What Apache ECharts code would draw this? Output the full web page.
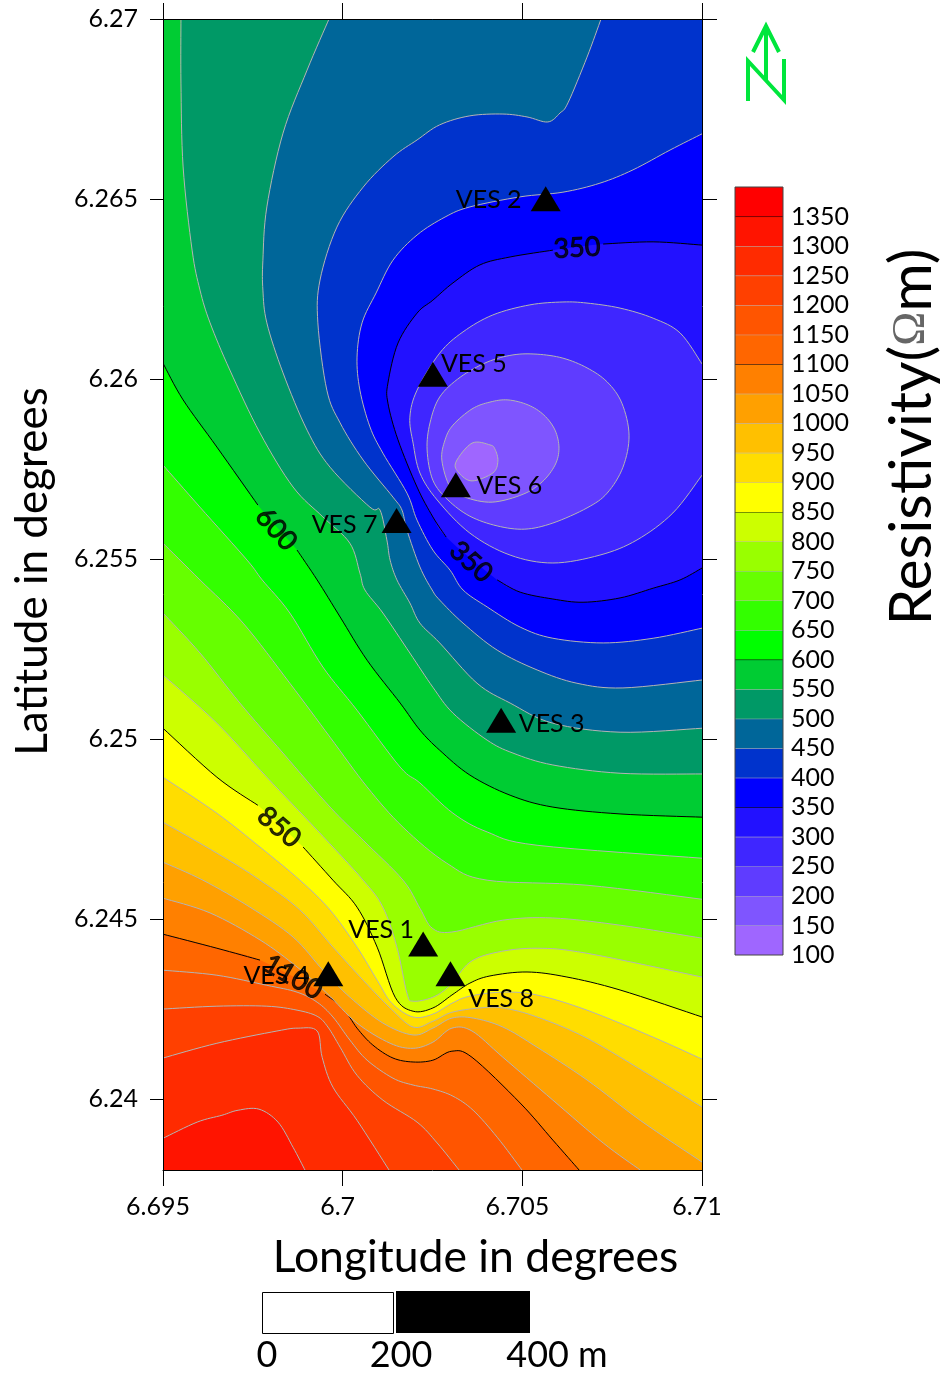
<!DOCTYPE html>
<html>
<head>
<meta charset="utf-8">
<style>html,body{margin:0;padding:0;background:#fff}#c{width:940px;height:1373px}</style>
<script src="https://cdn.jsdelivr.net/npm/echarts@6/dist/echarts.min.js"></script>
</head>
<body>
<div id="c"></div>
<script>
const lonMin = 6.695, lonMax = 6.71, latMin = 6.23803, latMax = 6.27;
const lonTicks = [6.695, 6.7, 6.705, 6.71];
const latTicks = [6.24, 6.245, 6.25, 6.255, 6.26, 6.265, 6.27];

const bandLows = [100,150,200,250,300,350,400,450,500,550,600,650,700,750,800,850,900,950,1000,1050,1100,1150,1200,1250,1300,1350];
const bandColors = ['#9f66ff','#7f55ff','#5f3cff','#3f26ff','#2211ff','#0000ff','#0033cc','#006699','#009966','#00cc33','#00ff00','#33ff00','#66ff00','#99ff00','#ccff00','#ffff00','#ffdd00','#ffc000','#ffa000','#ff8000','#ff6600','#ff5500','#ff4000','#ff2b00','#ff1400','#ff0000'];
const blackLevels = [350,600,850,1100,1350];

// Contours as [longitude, latitude] in degrees; null marks a break for a contour label
const c150 = [[6.7036,6.25822],[6.7041,6.25817],[6.70424,6.25805],[6.70432,6.25772],[6.70418,6.25739],[6.7036,6.25717],[6.70324,6.25739],[6.70315,6.25769]];
const c200 = [[6.7046,6.25942],[6.70516,6.25928],[6.7056,6.259],[6.70591,6.25858],[6.70602,6.25808],[6.70591,6.25761],[6.70555,6.25714],[6.70502,6.2568],[6.70416,6.25658],[6.7034,6.25672],[6.70299,6.257],[6.70276,6.25775],[6.70285,6.25831],[6.70307,6.25872],[6.7036,6.25917],[6.7041,6.25936]];
const c250 = [[6.70541,6.26069],[6.70613,6.26058],[6.7068,6.26031],[6.70736,6.25992],[6.70777,6.25933],[6.70797,6.25844],[6.7078,6.25755],[6.70736,6.25683],[6.7068,6.25642],[6.70585,6.256],[6.70507,6.25583],[6.7043,6.25592],[6.70354,6.25619],[6.70293,6.25664],[6.70251,6.25719],[6.70235,6.25803],[6.70243,6.25878],[6.7027,6.2595],[6.70327,6.26005],[6.70402,6.26047],[6.70474,6.26067]];
const c300 = [[6.71,6.26042],[6.70939,6.26128],[6.70864,6.26169],[6.70772,6.26197],[6.7068,6.26211],[6.70613,6.26214],[6.70521,6.26206],[6.70418,6.26178],[6.70335,6.26131],[6.7027,6.26072],[6.70207,6.25969],[6.70187,6.25894],[6.70196,6.25822],[6.70215,6.25739],[6.70263,6.25664],[6.70354,6.25572],[6.70466,6.25511],[6.70585,6.25489],[6.70716,6.25511],[6.70819,6.25553],[6.70919,6.25628],[6.71,6.25733]];
const c350 = [[6.71,6.26372],[6.70864,6.26381],[6.70725,6.26375],null,[6.70585,6.26358],[6.70466,6.26339],[6.70382,6.26317],[6.70307,6.26267],[6.70251,6.26219],[6.70207,6.26183],[6.70154,6.261],[6.70126,6.25989],[6.70126,6.25933],[6.70154,6.25831],[6.70207,6.257],[6.70251,6.25617],[6.70288,6.25561],null,[6.7043,6.25442],[6.70494,6.25408],[6.70585,6.25389],[6.70669,6.2538],[6.70772,6.25392],[6.70864,6.25419],[6.70939,6.25442],[6.71,6.25475]];
const c400 = [[6.71,6.26681],[6.70911,6.26636],[6.70808,6.26581],[6.70716,6.26544],[6.70613,6.26519],[6.70494,6.26506],[6.70354,6.26478],[6.70285,6.2645],[6.70207,6.264],[6.7014,6.2633],[6.70093,6.26239],[6.70054,6.26156],[6.7004,6.26061],[6.70048,6.25969],[6.70076,6.25867],[6.70112,6.25794],[6.70179,6.25683],[6.70207,6.25608],[6.70251,6.25525],[6.70299,6.25469],[6.70335,6.25414],[6.70402,6.25367],[6.70494,6.25311],[6.70585,6.2528],[6.70725,6.25267],[6.70864,6.2528],[6.71,6.25308]];
const c450 = [[6.70719,6.27],[6.7068,6.26894],[6.70627,6.26767],[6.70605,6.26739],[6.70571,6.26714],[6.70513,6.26728],[6.70446,6.26736],[6.70354,6.26731],[6.7027,6.26706],[6.70207,6.26664],[6.7014,6.26617],[6.70057,6.26533],[6.69984,6.26422],[6.69937,6.26275],[6.69931,6.26156],[6.69956,6.25969],[6.69993,6.25878],[6.70057,6.25775],[6.7014,6.25672],[6.70165,6.25636],[6.70179,6.2558],[6.70215,6.25478],[6.70249,6.25414],[6.7027,6.25386],[6.70335,6.25322],[6.7043,6.25247],[6.70541,6.25192],[6.70652,6.25155],[6.7078,6.25142],[6.71,6.25164]];
const c500 = [[6.69962,6.27],[6.69901,6.26858],[6.69834,6.26683],[6.69789,6.26478],[6.69778,6.2633],[6.69778,6.26247],[6.69789,6.26156],[6.69834,6.26017],[6.69901,6.25858],[6.69965,6.25755],[6.70076,6.25644],[6.70104,6.25636],[6.70123,6.25553],[6.70132,6.25497],[6.70151,6.25442],[6.70187,6.25378],[6.70215,6.25322],[6.7027,6.25267],[6.70374,6.25155],[6.70466,6.251],[6.70585,6.25044],[6.70772,6.25019],[6.71,6.2503]];
const c550 = [[6.6955,6.27],[6.6955,6.26822],[6.69556,6.26589],[6.69581,6.26358],[6.69603,6.26247],[6.69631,6.26156],[6.69686,6.26025],[6.6977,6.2585],[6.69862,6.257],[6.69945,6.25617],[6.7002,6.25544],[6.70048,6.25461],[6.70062,6.25414],[6.70112,6.2535],[6.70187,6.25239],[6.70251,6.25144],[6.70307,6.25072],[6.70402,6.24997],[6.70474,6.24961],[6.70585,6.24928],[6.70772,6.24905],[6.71,6.24903]];
const c600 = [[6.695,6.26044],[6.69556,6.25942],[6.6965,6.25811],[6.69764,6.2565],null,[6.69873,6.25525],[6.69929,6.25442],[6.69993,6.25339],[6.70068,6.25219],[6.7016,6.251],[6.70215,6.25025],[6.7027,6.24969],[6.70354,6.249],[6.70466,6.24844],[6.70585,6.24811],[6.70772,6.24792],[6.71,6.24783]];
const c650 = [[6.695,6.25761],[6.69603,6.25644],[6.69734,6.25497],[6.69776,6.25442],[6.69853,6.2535],[6.69945,6.252],[6.7004,6.2508],[6.7016,6.24922],[6.70215,6.24878],[6.70307,6.24794],[6.70402,6.24742],[6.70541,6.24705],[6.71,6.24669]];
const c700 = [[6.695,6.25544],[6.69603,6.25442],[6.69723,6.25322],[6.69853,6.25155],[6.69965,6.25005],[6.70068,6.24867],[6.70168,6.24755],[6.7029,6.24655],[6.70402,6.24608],[6.7068,6.24594],[6.71,6.24555]];
const c750 = [[6.695,6.2535],[6.69603,6.25239],[6.69714,6.251],[6.69834,6.24961],[6.69965,6.24811],[6.70057,6.24719],[6.70168,6.24608],[6.70215,6.2453],[6.70249,6.24475],[6.70304,6.24464],[6.70446,6.24497],[6.70585,6.24503],[6.70772,6.24483],[6.71,6.24447]];
const c800 = [[6.695,6.25178],[6.6965,6.25044],[6.69789,6.24894],[6.69929,6.24747],[6.70057,6.24608],[6.70112,6.24533],[6.70151,6.24422],[6.70179,6.24294],[6.70196,6.24272],[6.70251,6.24283],[6.70299,6.24316],[6.70354,6.2438],[6.7043,6.24408],[6.70541,6.24419],[6.7068,6.24405],[6.71,6.24339]];
const c850 = [[6.695,6.2503],[6.6965,6.24894],[6.69764,6.24816],null,[6.6989,6.247],[6.69973,6.24608],[6.7004,6.24533],[6.70096,6.24422],[6.70146,6.24283],[6.70196,6.24244],[6.70251,6.24253],[6.70304,6.24289],[6.70354,6.24322],[6.7041,6.24342],[6.70513,6.24353],[6.70624,6.24339],[6.70772,6.24303],[6.71,6.24228]];
const c900 = [[6.695,6.24894],[6.6965,6.24794],[6.6977,6.247],[6.69881,6.24608],[6.69965,6.24525],[6.7004,6.24422],[6.70096,6.2433],[6.70137,6.24266],[6.70196,6.24228],[6.70251,6.24236],[6.70304,6.24266],[6.70354,6.24286],[6.70446,6.24297],[6.70541,6.24289],[6.7068,6.24247],[6.70864,6.24172],[6.71,6.24111]];
const c950 = [[6.695,6.24769],[6.6965,6.24683],[6.6977,6.24608],[6.69881,6.24525],[6.69973,6.24422],[6.70057,6.2433],[6.70132,6.24253],[6.70196,6.242],[6.70251,6.24216],[6.70304,6.24241],[6.70382,6.24253],[6.70446,6.24253],[6.70541,6.24228],[6.7068,6.24169],[6.70864,6.24061],[6.71,6.23978]];
const c1000 = [[6.695,6.24658],[6.69611,6.24608],[6.69742,6.24533],[6.69862,6.2445],[6.69945,6.24358],[6.7002,6.24283],[6.70112,6.24211],[6.70196,6.24178],[6.70251,6.24197],[6.70304,6.24225],[6.70363,6.24225],[6.70446,6.242],[6.70541,6.24144],[6.7068,6.24053],[6.70828,6.23941],[6.71,6.23825]];
const c1050 = [[6.695,6.24558],[6.69631,6.24517],[6.6977,6.24442],[6.69873,6.24367],[6.69956,6.24294],[6.7004,6.24211],[6.70132,6.24155],[6.70196,6.24141],[6.70251,6.24158],[6.70304,6.24197],[6.7036,6.24189],[6.70446,6.24116],[6.70585,6.23997],[6.70725,6.23878],[6.70828,6.23803]];
const c1100 = [[6.695,6.24458],[6.6965,6.24419],[6.6977,6.24386],null,[6.69951,6.24291],[6.70001,6.24253],[6.7004,6.24197],[6.70084,6.2415],[6.7014,6.24114],[6.70196,6.24103],[6.70251,6.24108],[6.70304,6.24133],[6.7036,6.24116],[6.70494,6.23989],[6.70585,6.23886],[6.70658,6.23803]];
const c1150 = [[6.695,6.24358],[6.6965,6.24344],[6.69789,6.24316],[6.69873,6.24297],[6.69929,6.24269],[6.69973,6.24228],[6.7002,6.24164],[6.70068,6.24108],[6.7014,6.24058],[6.70196,6.24039],[6.70251,6.24028],[6.70307,6.24008],[6.70363,6.23969],[6.7043,6.23894],[6.70499,6.23803]];
const c1200 = [[6.695,6.2425],[6.6965,6.24258],[6.69789,6.24258],[6.69873,6.24247],[6.69929,6.2423],[6.69959,6.242],[6.69993,6.24144],[6.7004,6.24066],[6.70112,6.23997],[6.70207,6.23936],[6.70263,6.23878],[6.70324,6.23803]];
const c1250 = [[6.695,6.24114],[6.6965,6.24155],[6.69817,6.24189],[6.69876,6.24197],[6.69929,6.24189],[6.69943,6.24116],[6.69973,6.24033],[6.7004,6.23941],[6.70129,6.23803]];
const c1300 = [[6.695,6.23891],[6.69595,6.23936],[6.69664,6.23955],[6.69709,6.23969],[6.69767,6.23972],[6.6982,6.23936],[6.69862,6.23866],[6.69895,6.23803]];

const contourLevels = [1300,1250,1200,1150,1100,1050,1000,950,900,850,800,750,700,650,600,550,500,450,400,350,300,250,200,150];
const contourLines = [c1300,c1250,c1200,c1150,c1100,c1050,c1000,c950,c900,c850,c800,c750,c700,c650,c600,c550,c500,c450,c400,c350,c300,c250,c200,c150];

const vesNames = ['VES 1','VES 2','VES 3','VES 4','VES 5','VES 6','VES 7','VES 8'];
const vesLon = [6.70224,6.70565,6.70441,6.6996,6.70251,6.70315,6.7015,6.703];
const vesLat = [6.24431,6.26501,6.25052,6.24348,6.26013,6.25706,6.25607,6.24348];
const vesLabelOffsets = [[-42,-14],[-57,1],[50.5,4],[-52,2],[41,-10],[53.5,1],[-52,4.5],[50.7,25]];

const contourLabelText = ['350','350','600','850','1100'];
const contourLabelLon = [6.70652,6.70357,6.69815,6.69823,6.69862];
const contourLabelLat = [6.26364,6.25492,6.25583,6.24755,6.24339];
const contourLabelAngle = [3,-42,-48,-40,-30];

const FONT = 'Lato';
const GRAY = '#b4b4b4';

function colorForBandLow(low){ return bandColors[bandLows.indexOf(low)]; }

// Catmull-Rom rounding of a run of pixel points
function rounded(pts){
  if (pts.length < 3) return pts.slice();
  const out = [];
  for (let i = 0; i < pts.length - 1; i++){
    const p0 = pts[Math.max(i-1,0)], p1 = pts[i], p2 = pts[i+1], p3 = pts[Math.min(i+2,pts.length-1)];
    for (let s = 0; s < 8; s++){
      const t = s/8, t2 = t*t, t3 = t2*t;
      out.push([0,1].map(k => 0.5*((2*p1[k]) + (p2[k]-p0[k])*t + (2*p0[k]-5*p1[k]+4*p2[k]-p3[k])*t2 + (3*p1[k]-p0[k]-3*p2[k]+p3[k])*t3)));
    }
  }
  out.push(pts[pts.length-1]);
  return out;
}
function closedRounded(pts){
  const n = pts.length, ext = [pts[n-2],pts[n-1]].concat(pts,[pts[0],pts[1]]);
  const r = rounded(ext);
  return r.slice(8*2, 8*(n+2)+1);
}
function closingCorners(first, last){
  const res = [];
  if (last[1] <= latMin) res.push([lonMax,latMin]);
  if (last[1] <= latMin || last[0] >= lonMax){
    if (first[0] < lonMax) res.push([lonMax,latMax]);
    if (first[0] <= lonMin) res.push([lonMin,latMax]);
  }
  return res;
}

function renderMap(params, api){
  const i = api.value(0);
  if (i < 0){
    const a = api.coord([lonMin,latMax]), b = api.coord([lonMax,latMin]);
    return {type:'rect', shape:{x:a[0],y:a[1],width:b[0]-a[0],height:b[1]-a[1]}, style:{fill:colorForBandLow(1300)}};
  }
  const level = contourLevels[i], line = contourLines[i];
  const fill = colorForBandLow(level-50);
  const stroke = blackLevels.includes(level) ? '#000' : GRAY;
  const runs = [[]];
  line.forEach(p => { if (p) runs[runs.length-1].push(p); else runs.push([]); });
  const flat = line.filter(Boolean);
  const first = flat[0], last = flat[flat.length-1];
  const isRing = first[0] > lonMin && first[0] < lonMax && first[1] < latMax;
  const children = [];
  if (isRing){
    const ring = closedRounded(flat.map(p => api.coord(p)));
    children.push({type:'polygon', shape:{points:ring}, style:{fill:fill, stroke:stroke, lineWidth:1}});
  } else {
    const whole = rounded(flat.map(p => api.coord(p)));
    const corners = closingCorners(first,last).map(p => api.coord(p));
    children.push({type:'polygon', shape:{points:whole.concat(corners)}, style:{fill:fill}});
    runs.forEach(r => {
      children.push({type:'polyline', shape:{points:rounded(r.map(p => api.coord(p)))}, style:{fill:null, stroke:stroke, lineWidth:1}});
    });
  }
  return {type:'group', children:children};
}

function renderBar(params, api){
  const low = api.value(0), high = api.value(1);
  const a = api.coord([0,high]), b = api.coord([1,low]);
  const kids = [{type:'rect', shape:{x:a[0],y:a[1],width:b[0]-a[0],height:b[1]-a[1]}, style:{fill:bandColors[params.dataIndex]}}];
  if (high < 1400){
    kids.push({type:'line', shape:{x1:a[0],y1:a[1],x2:b[0],y2:a[1]}, style:{stroke:blackLevels.includes(high)?'#000':GRAY, lineWidth:1}});
  }
  return {type:'group', children:kids};
}

const mapOrder = [-1].concat(contourLevels.map((_,i)=>i));
const chart = echarts.init(document.getElementById('c'), null, {renderer:'canvas'});
const tickLine = {lineStyle:{color:'#000', width:1}};

chart.setOption({
  animation:false,
  backgroundColor:'#fff',
  textStyle:{fontFamily:FONT},
  grid:[
    {left:163, top:19, width:539, height:1151, outerBoundsMode:'none', containLabel:false},
    {left:735, top:187, width:48, height:768, outerBoundsMode:'none', containLabel:false, show:true, borderColor:'#444', borderWidth:1, backgroundColor:'transparent', z:8}
  ],
  xAxis:[
    {gridIndex:0, type:'value', min:lonMin, max:lonMax, interval:0.005, position:'bottom', z:10,
     name:'Longitude in degrees', nameLocation:'middle', nameGap:65,
     nameTextStyle:{fontFamily:FONT, fontSize:44.5, color:'#000', padding:[0,0,0,86]},
     axisLine:{onZero:false, lineStyle:{color:'#000', width:1}},
     axisTick:{show:true, inside:false, length:16, customValues:lonTicks, lineStyle:tickLine.lineStyle},
     splitLine:{show:false},
     axisLabel:{show:true, margin:24, fontFamily:FONT, fontSize:25, color:'#000', padding:[0,10,0,0], customValues:lonTicks,
       hideOverlap:false, formatter:v => String(+(+v).toFixed(3))}},
    {gridIndex:0, type:'value', min:lonMin, max:lonMax, interval:0.005, position:'top', z:10,
     axisLine:{onZero:false, lineStyle:{color:'#000', width:1}},
     axisTick:{show:true, inside:false, length:16, customValues:lonTicks, lineStyle:tickLine.lineStyle},
     axisLabel:{show:false}, splitLine:{show:false}},
    {gridIndex:1, type:'value', min:0, max:1, show:false}
  ],
  yAxis:[
    {gridIndex:0, type:'value', min:latMin, max:latMax, position:'left', z:10,
     name:'Latitude in degrees', nameLocation:'middle', nameGap:108, nameRotate:90,
     nameTextStyle:{fontFamily:FONT, fontSize:44, color:'#000', padding:[0,0,0,46]},
     axisLine:{onZero:false, lineStyle:{color:'#000', width:1}},
     axisTick:{show:true, inside:false, length:13, customValues:latTicks, lineStyle:tickLine.lineStyle},
     splitLine:{show:false},
     axisLabel:{show:true, margin:25, fontFamily:FONT, fontSize:25, color:'#000', padding:[2,0,0,0], customValues:latTicks, hideOverlap:false, formatter:v => String(+(+v).toFixed(3))}},
    {gridIndex:0, type:'value', min:latMin, max:latMax, position:'right', z:10,
     axisLine:{onZero:false, lineStyle:{color:'#000', width:1}},
     axisTick:{show:true, inside:false, length:15, customValues:latTicks, lineStyle:tickLine.lineStyle},
     axisLabel:{show:false}, splitLine:{show:false}},
    {gridIndex:1, type:'value', min:100, max:1400, interval:50, position:'right', z:10,
     axisLine:{show:false},
     axisTick:{show:false}, splitLine:{show:false},
     axisLabel:{show:true, margin:8, fontFamily:FONT, fontSize:25, color:'#000', padding:[2,0,0,0], hideOverlap:false, showMinLabel:true, showMaxLabel:true,
       formatter:v => (+v >= 1400 ? '' : String(v))}}
  ],
  series:[
    {type:'custom', xAxisIndex:0, yAxisIndex:0, coordinateSystem:'cartesian2d', clip:true, silent:true, z:2,
     renderItem:renderMap, encode:{x:-1,y:-1}, data:mapOrder.map(i => [i])},
    {type:'custom', xAxisIndex:2, yAxisIndex:2, coordinateSystem:'cartesian2d', silent:true, z:2,
     renderItem:renderBar, encode:{x:-1,y:[0,1]}, data:bandLows.map(l => [l, l+50])},
    {type:'scatter', xAxisIndex:0, yAxisIndex:0, silent:true, z:6, symbol:'circle', symbolSize:1,
     itemStyle:{color:'rgba(0,0,0,0)'},
     data:contourLabelText.map((t,i) => ({value:[contourLabelLon[i],contourLabelLat[i]],
       label:{show:true, position:'inside', formatter:t, rotate:contourLabelAngle[i], fontFamily:FONT, fontSize:27, color:'#000', textBorderColor:'#000', textBorderWidth:1}}))},
    {type:'scatter', xAxisIndex:0, yAxisIndex:0, silent:true, z:7, symbol:'triangle', symbolSize:[30,25],
     itemStyle:{color:'#000', opacity:1},
     data:vesNames.map((n,i) => ({value:[vesLon[i],vesLat[i]],
       label:{show:true, position:'inside', offset:vesLabelOffsets[i], formatter:n, fontFamily:FONT, fontSize:25, color:'#000'}}))}
  ],
  graphic:[
    {type:'polyline', z:20, shape:{points:[[753,52],[766,26],[779,52]]}, style:{fill:null, stroke:'#00e63c', lineWidth:4}},
    {type:'line', z:20, shape:{x1:766,y1:26,x2:766,y2:80}, style:{stroke:'#00e63c', lineWidth:4}},
    {type:'polyline', z:20, shape:{points:[[748,101],[748,61],[784,100],[784,59]]}, style:{fill:null, stroke:'#00e63c', lineWidth:4}},
    {type:'text', z:20, x:912, y:437, rotation:Math.PI/2,
     style:{text:'Resistivity({o|Ω}m)', fontFamily:FONT, fontSize:59, fill:'#000', align:'center', verticalAlign:'middle',
       rich:{o:{fontFamily:'Liberation Serif', fontSize:46, fill:'#666'}}}},
    {type:'rect', z:20, shape:{x:262.5,y:1292.5,width:131,height:41}, style:{fill:'#fff', stroke:'#000', lineWidth:1}},
    {type:'rect', z:20, shape:{x:396,y:1291,width:134,height:42}, style:{fill:'#000'}},
    {type:'text', z:20, x:267, y:1355, style:{text:'0', fontFamily:FONT, fontSize:36, fill:'#000', align:'center', verticalAlign:'middle'}},
    {type:'text', z:20, x:401, y:1355, style:{text:'200', fontFamily:FONT, fontSize:36, fill:'#000', align:'center', verticalAlign:'middle'}},
    {type:'text', z:20, x:557, y:1355, style:{text:'400 m', fontFamily:FONT, fontSize:36, fill:'#000', align:'center', verticalAlign:'middle'}}
  ]
});
</script>
</body>
</html>
